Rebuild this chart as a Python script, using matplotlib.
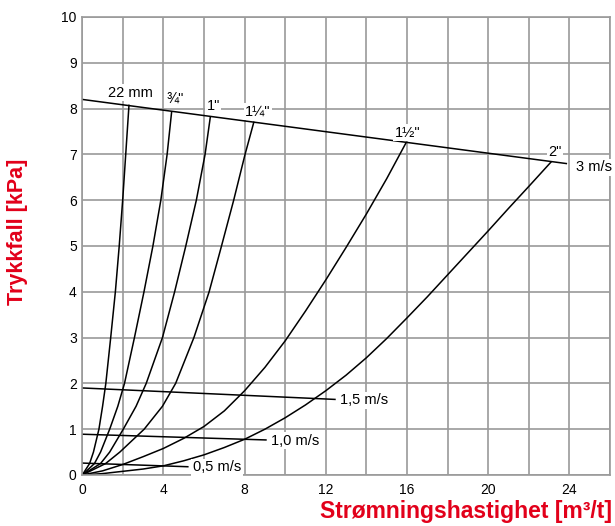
import matplotlib
matplotlib.use("Agg")
import matplotlib.pyplot as plt

plt.rcParams['font.family'] = ['Liberation Sans', 'DejaVu Sans']

# pipe curves: flow [m3/t] vs pressure drop [kPa]
pipe_names = ['22 mm', '¾"', '1"', '1¼"', '1½"', '2"']
q_22 = [0, 0.36, 0.55, 0.82, 1.0, 1.16, 1.40, 1.63, 1.82, 1.99, 2.14, 2.30]
p_22 = [0, 0.25, 0.5, 1, 1.5, 2, 3, 4, 5, 6, 7, 8.07]
q_34 = [0, 0.6, 0.9, 1.35, 1.75, 2.08, 2.57, 3.04, 3.48, 3.87, 4.18, 4.40]
p_34 = [0, 0.25, 0.5, 1, 1.5, 2, 3, 4, 5, 6, 7, 7.92]
q_1 = [0, 0.9, 1.35, 2.02, 2.65, 3.15, 3.95, 4.55, 5.10, 5.62, 6.05, 6.31]
p_1 = [0, 0.25, 0.5, 1, 1.5, 2, 3, 4, 5, 6, 7, 7.82]
q_114 = [0, 1.15, 1.85, 3.05, 3.95, 4.6, 5.5, 6.25, 6.86, 7.46, 8.02, 8.45]
p_114 = [0, 0.25, 0.5, 1, 1.5, 2, 3, 4, 5, 6, 7, 7.70]
q_112 = [0, 1, 2, 3, 4, 5, 6, 7, 8, 9, 10, 11, 12, 13, 14, 15, 15.96]
p_112 = [0, 0.09, 0.23, 0.4, 0.58, 0.8, 1.06, 1.4, 1.84, 2.35, 2.93, 3.58,
         4.26, 4.97, 5.7, 6.47, 7.26]
q_2 = [0, 1, 2, 3, 4, 5, 6, 7, 8, 9, 10, 11, 12, 13, 14, 15, 16, 17, 18, 19,
       20, 21, 22, 23.09]
p_2 = [0, 0.03, 0.08, 0.13, 0.2, 0.31, 0.44, 0.6, 0.78, 1.0, 1.25, 1.53,
       1.84, 2.18, 2.56, 2.98, 3.43, 3.89, 4.37, 4.85, 5.33, 5.82, 6.3, 6.83]
pipe_q = [q_22, q_34, q_1, q_114, q_112, q_2]
pipe_p = [p_22, p_34, p_1, p_114, p_112, p_2]
pipe_label_xy = [(2.35, 8.35), (4.6, 8.2), (6.45, 8.05), (8.65, 7.94), (16.03, 7.47), (23.3, 7.06)]

# velocity lines
vel_names = ['3 m/s', '1,5 m/s', '1,0 m/s', '0,5 m/s']
vel_q = [[0, 23.85], [0, 12.45], [0, 9.05], [0, 5.2]]
vel_p = [[8.2, 6.8], [1.9, 1.65], [0.89, 0.765], [0.26, 0.18]]
vel_label_xy = [(24.35, 6.72), (12.7, 1.63), (9.3, 0.75), (5.45, 0.17)]

x_ticks = [0, 4, 8, 12, 16, 20, 24]
y_ticks = list(range(0, 11))

red = '#e2001a'
grid_col = '#9a9a9a'

fig = plt.figure(figsize=(6.15, 5.26), dpi=100)
ax = fig.add_axes([0.1338, 0.097, 0.858, 0.8707])

ax.set_xlim(0, 26)
ax.set_ylim(0, 10)
ax.set_xticks(range(0, 27, 2), minor=True)
ax.set_xticks(x_ticks)
ax.set_yticks(y_ticks)
ax.grid(True, which='both', color=grid_col, linewidth=1.2)
ax.set_axisbelow(True)
ax.tick_params(which='both', length=0, labelsize=10)
ax.tick_params(axis='x', pad=6)
ax.tick_params(axis='y', pad=4)
for s in ax.spines.values():
    s.set_color(grid_col)
    s.set_linewidth(1.2)

for q, p in zip(pipe_q, pipe_p):
    ax.plot(q, p, color='black', linewidth=1.1)
for q, p in zip(vel_q, vel_p):
    ax.plot(q, p, color='black', linewidth=1.1)

box = dict(facecolor='white', edgecolor='none', pad=1.0)
for name, (x, y) in zip(pipe_names, pipe_label_xy):
    ax.text(x, y, name, fontsize=10.5, ha='center', va='center', bbox=box)
for name, (x, y) in zip(vel_names, vel_label_xy):
    ax.text(x, y, name, fontsize=10.5, ha='left', va='center', bbox=box)

fig.text(0.995, 0.027, 'Strømningshastighet [m³/t]', color=red,
         fontsize=16.5, fontweight='bold', ha='right', va='center')
fig.text(0.029, 0.559, 'Trykkfall [kPa]', color=red, fontsize=15.5,
         fontweight='bold', rotation=90, ha='center', va='center')

fig.savefig('out.png', dpi=100)
